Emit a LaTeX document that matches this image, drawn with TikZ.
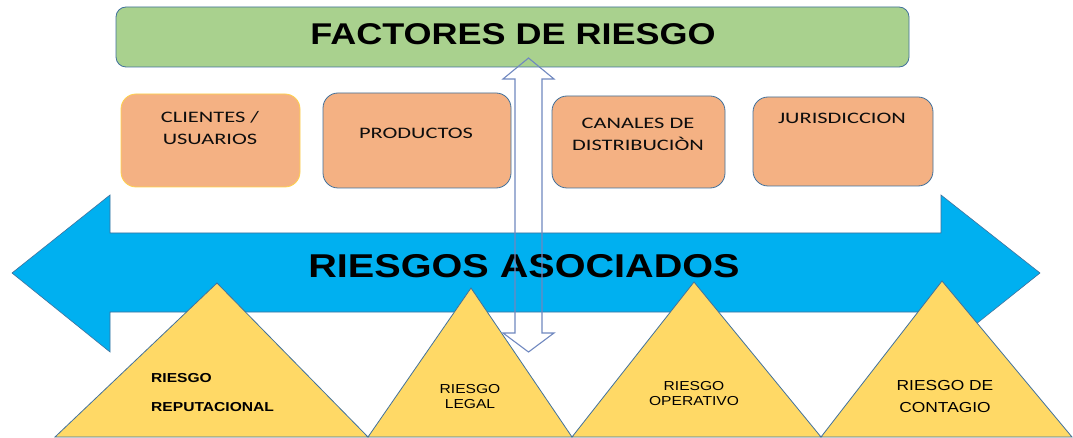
\documentclass[tikz,border=0pt]{standalone}
\usepackage{fontspec}
\usepackage{tikz}
\setmainfont{Liberation Sans}
\newfontfamily\headfont[FakeStretch=1.2]{Liberation Sans}
\newfontfamily\boxfont[FakeStretch=1.4]{Carlito}
\definecolor{verde}{HTML}{A9D18E}
\definecolor{naranja}{HTML}{F4B183}
\definecolor{celeste}{HTML}{00B0F0}
\definecolor{amarillo}{HTML}{FFD966}
\definecolor{borde}{HTML}{41719C}
\definecolor{bordeclaro}{HTML}{7088C0}
\definecolor{bordeoro}{HTML}{FFD34D}
\tikzset{
  factor/.style={draw=borde,fill=naranja,rounded corners=15pt,line width=0.8pt},
  riesgo/.style={draw=borde,fill=amarillo,line join=miter,line width=0.8pt},
  boxtext/.style={font=\boxfont\fontsize{16}{22}\selectfont,text=black!95,align=center,inner sep=0pt},
  tritext/.style={font=\headfont\fontsize{13}{15}\selectfont,text=black,align=center,inner sep=0pt}
}
\begin{document}
\begin{tikzpicture}[line cap=round,line join=round,x=1pt,y=-1pt]
\useasboundingbox (0,0) rectangle (1073,438);
\fill[white] (0,0) rectangle (1073,438);

% factores
\draw[draw=borde,fill=verde,rounded corners=10pt,line width=0.8pt] (116,7) rectangle (909,67);
\node[anchor=base,font=\headfont\bfseries\fontsize{30}{31}\selectfont,inner sep=0pt] (titulo) at (513,45) {FACTORES DE RIESGO};

\draw[factor,draw=bordeoro] (121,94) rectangle (300,187);
\draw[factor] (323,93) rectangle (511,188);
\draw[factor] (552,96) rectangle (725,188);
\draw[factor] (753,97) rectangle (933,186);
\node[boxtext] (clientes) at (210,128) {CLIENTES /\\USUARIOS};
\node[boxtext] (productos) at (416,133) {PRODUCTOS};
\node[boxtext] (canales) at (638,134.5) {CANALES DE\\DISTRIBUCIÒN};
\node[boxtext] (jurisdiccion) at (842,118) {JURISDICCION};

% flecha doble
\draw[draw=borde,fill=celeste,line join=miter,line width=0.6pt] (12,273) -- (110,195) -- (110,233) -- (941,233) -- (941,195)
  -- (1040,273) -- (941,352) -- (941,312) -- (110,312) -- (110,352) -- cycle;
\node[anchor=base,font=\headfont\bfseries\fontsize{33}{34}\selectfont,inner sep=0pt] (asociados) at (524,277) {RIESGOS ASOCIADOS};

% riesgos
\draw[riesgo] (55,437) -- (217,283) -- (368,437) -- cycle;
\draw[riesgo] (368,437) -- (471,288) -- (572,437) -- cycle;
\draw[riesgo] (572,437) -- (694,282) -- (821,437) -- cycle;
\draw[riesgo] (821,437) -- (942,281) -- (1072,437) -- cycle;
\node[tritext,align=left,anchor=west,font=\headfont\bfseries\fontsize{13}{29.5}\selectfont] (reputacional) at (151,392.5) {RIESGO\\REPUTACIONAL};
\node[tritext] (legal) at (470,396.5) {RIESGO\\LEGAL};
\node[tritext] (operativo) at (694,393.5) {RIESGO\\OPERATIVO};
\node[tritext,font=\headfont\fontsize{14.5}{22}\selectfont] (contagio) at (945,397) {RIESGO DE\\CONTAGIO};

% flecha vertical
\draw[draw=bordeclaro,line width=1.1pt,line join=miter] (528.5,58) -- (554,79) -- (542,79) -- (542,333) -- (554,333) -- (528.5,352)
  -- (503,333) -- (515,333) -- (515,79) -- (503,79) -- cycle;
\end{tikzpicture}
\end{document}
